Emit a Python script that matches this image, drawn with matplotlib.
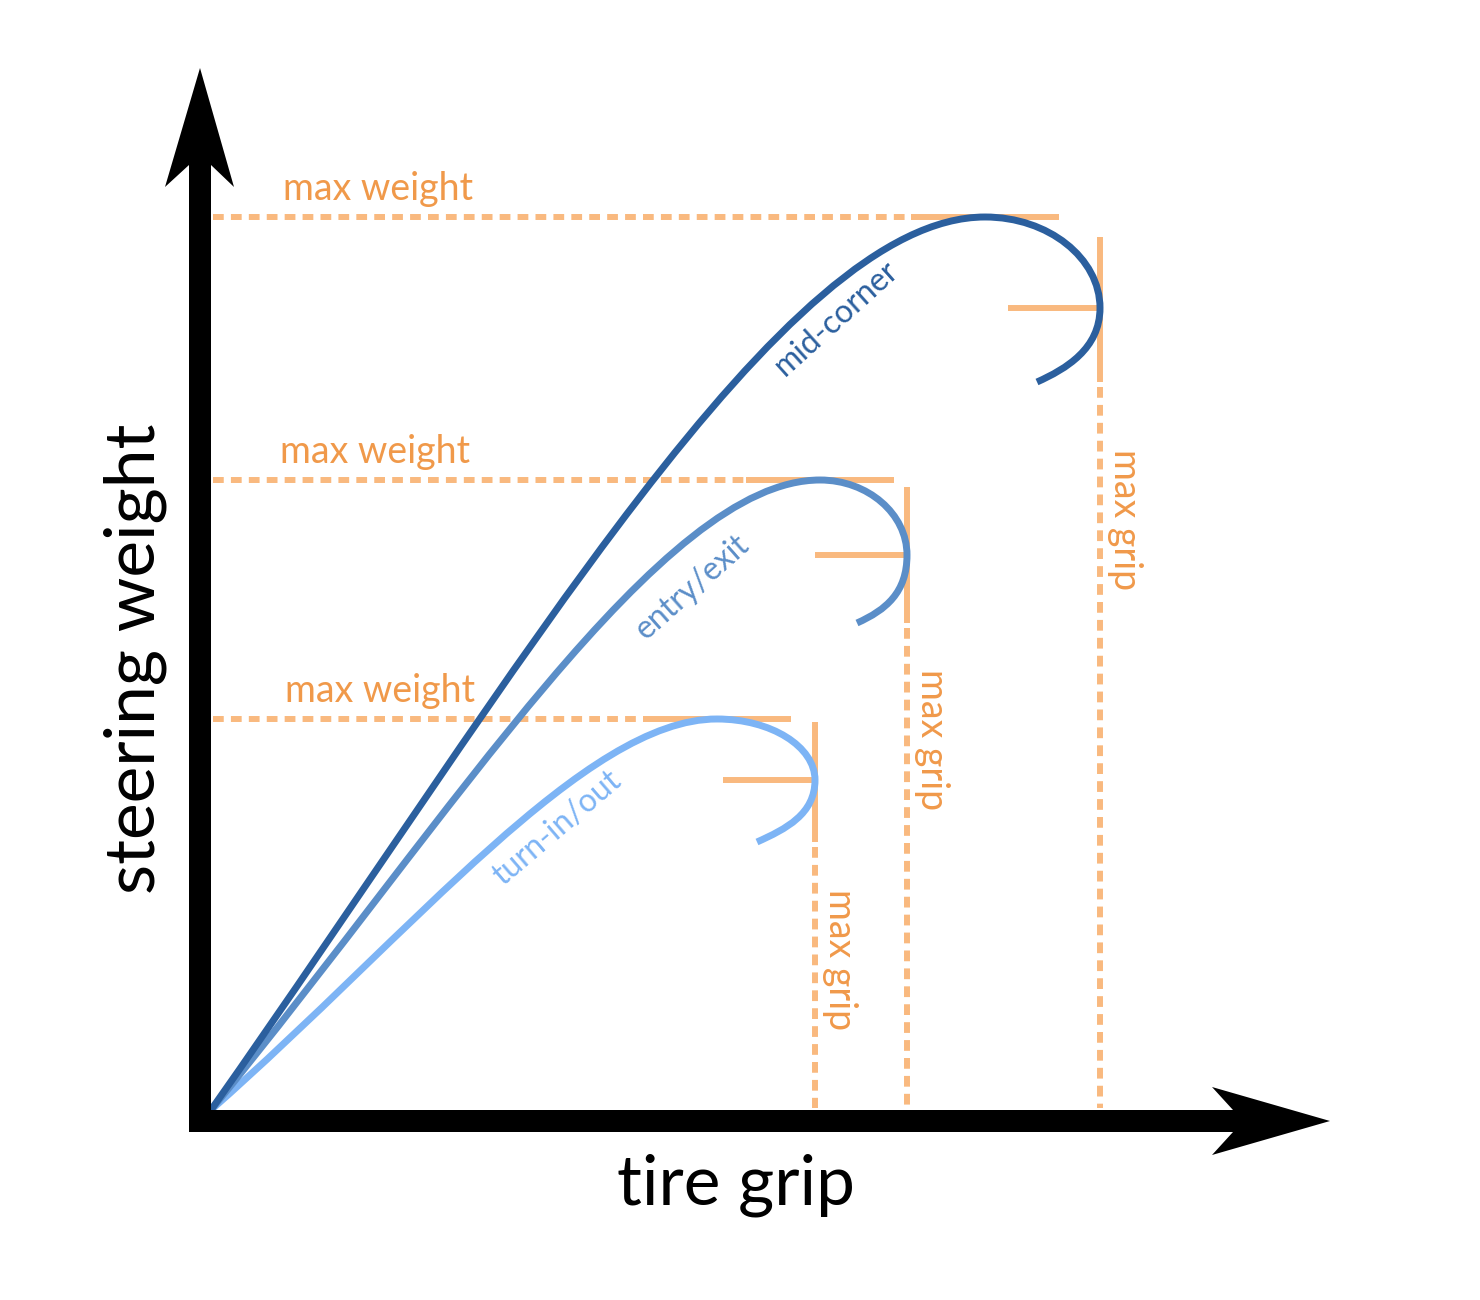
import matplotlib
matplotlib.use("Agg")
import matplotlib.pyplot as plt
from matplotlib.path import Path
from matplotlib.patches import PathPatch, Polygon

plt.rcParams['font.family'] = ['Lato', 'DejaVu Sans']

# ---- data (arbitrary units: tire grip on x, steering weight on y) ----
curve_names = ["turn-in/out", "entry/exit", "mid-corner"]
peak_grip = [5.06, 6.09, 7.74]        # grip where steering weight peaks
max_weight = [3.91, 6.30, 8.93]       # peak steering weight
max_grip = [6.04, 6.96, 8.89]         # maximum grip
weight_at_max_grip = [3.30, 5.55, 8.02]
end_grip = [5.46, 6.46, 8.26]
end_weight = [2.68, 4.87, 7.28]
initial_slope = [0.88, 1.22, 1.42]

# ---- styles / layout ----
curve_colors = ["#7db4f5", "#5b8ec8", "#2b5f9e"]
line_orange = "#f9b97f"
text_orange = "#f0994a"
grip_bar_top = [3.88, 6.23, 8.73]
grip_label_y = [1.50, 3.70, 5.90]
weight_label_x = [0.74, 0.69, 0.72]
label_pos = [(3.46, 2.82), (4.81, 5.23), (6.26, 7.92)]
label_rot = [40.6, 41.5, 42.0]
dash_pat = (1.8, 1.2)

fig = plt.figure(figsize=(14.8, 13), dpi=100)
ax = fig.add_axes([0, 0, 1, 1])
ax.set_xlim(-2.11, 12.69)
ax.set_ylim(-1.90, 11.10)
ax.axis('off')

lw_or = 4.3
for i in range(3):
    px, py = peak_grip[i], max_weight[i]
    rx, ry = max_grip[i], weight_at_max_grip[i]
    ex, ey = end_grip[i], end_weight[i]
    s = initial_slope[i]
    # max weight: dashed then solid
    ax.plot([0.02, px - 0.74], [py, py], color=line_orange, lw=lw_or,
            dashes=dash_pat, dash_capstyle='butt', zorder=1)
    ax.plot([px - 0.74, px + 0.74], [py, py], color=line_orange, lw=lw_or,
            solid_capstyle='butt', zorder=1)
    # max grip: solid then dashed
    ax.plot([rx, rx], [grip_bar_top[i], ey], color=line_orange, lw=lw_or,
            solid_capstyle='butt', zorder=1)
    ax.plot([rx, rx], [ey - 0.05, 0.02], color=line_orange, lw=lw_or,
            dashes=dash_pat, dash_capstyle='butt', zorder=1)
    # horizontal tick at max grip
    ax.plot([rx - 0.92, rx], [ry, ry], color=line_orange, lw=lw_or,
            solid_capstyle='butt', zorder=1)

    # curve
    k1 = 0.40 * px
    k2 = 0.26 * px
    d = 0.55
    verts = [
        (0, 0), (k1, s * k1), (px - k2, py), (px, py),
        (px + d * (rx - px), py), (rx, ry + d * (py - ry)), (rx, ry),
        (rx, ry - d * (ry - ey)), (ex + 0.32 * 0.91, ey + 0.32 * 0.41), (ex, ey),
    ]
    codes = [Path.MOVETO] + [Path.CURVE4] * 9
    ax.add_patch(PathPatch(Path(verts, codes), fill=False, lw=5.0,
                           edgecolor=curve_colors[i], capstyle='butt', zorder=3))

    ax.text(label_pos[i][0], label_pos[i][1], curve_names[i], rotation=label_rot[i],
            rotation_mode='anchor', ha='center', va='center', fontsize=23,
            color=curve_colors[i], zorder=4)
    ax.text(weight_label_x[i], py + 0.28, "max weight", ha='left', va='center',
            fontsize=27, color=text_orange, zorder=4)
    ax.text(rx + 0.25, grip_label_y[i], "max grip", rotation=-90, ha='center',
            va='center', fontsize=27, color=text_orange, zorder=4)

# axes with arrows
axis_poly = [(-0.22, -0.22), (10.22, -0.22), (10.01, -0.45), (11.19, -0.11),
             (10.01, 0.23), (10.22, 0.0), (0.0, 0.0), (0.0, 9.45), (0.23, 9.23),
             (-0.11, 10.42), (-0.46, 9.23), (-0.22, 9.45)]
ax.add_patch(Polygon(axis_poly, closed=True, facecolor='black', edgecolor='none', zorder=5))

ax.text(5.25, -0.75, "tire grip", ha='center', va='center', fontsize=50, color='black')
ax.text(-0.76, 4.51, "steering weight", rotation=90, ha='center', va='center',
        fontsize=50, color='black')

fig.savefig("out.png", dpi=100, facecolor='white')
